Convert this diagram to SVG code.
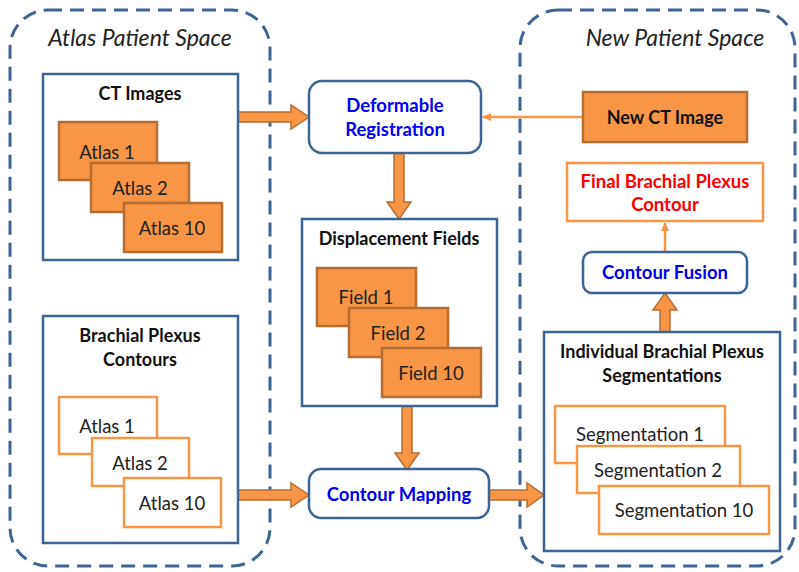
<svg xmlns="http://www.w3.org/2000/svg" width="799" height="572" viewBox="0 0 799 572">
<style>
.space{fill:none;stroke:#3E6494;stroke-width:3;stroke-dasharray:14 8}
.box{fill:#fff;stroke:#3E6494;stroke-width:2.5}
.rbox{fill:#fff;stroke:#3E6494;stroke-width:2.5}
.ofill{fill:#F79646;stroke:#B66D31;stroke-width:2.5}
.owhite{fill:#fff;stroke:#F79646;stroke-width:2.5}
.arrow{fill:#F79646;stroke:#B66D31;stroke-width:1.5}
.thin{stroke:#F79646;stroke-width:2.5;fill:none}
text{font-family:Lato,"Open Sans","Liberation Sans",sans-serif;text-anchor:middle}
.title{font-size:23px;font-style:italic;fill:#222}
.hd{font-size:18px;font-weight:bold;fill:#111}
.lbl{font-size:18.5px;fill:#222}
.blue{font-size:18.5px;font-weight:bold;fill:#0000EE}
.red{font-size:18.5px;font-weight:bold;fill:#FF0000}
</style>
<defs>
<marker id="ah" markerWidth="10" markerHeight="10" refX="8" refY="5" orient="auto" markerUnits="userSpaceOnUse">
<path d="M0,1 L9,5 L0,9 Z" fill="#F79646"/>
</marker>
</defs>

<g id="atlas-space">
<rect class="space" x="10" y="10" width="260" height="556" rx="38"/>
<text class="title" x="140" y="46">Atlas Patient Space</text>
</g>
<g id="new-space">
<rect class="space" x="520" y="10" width="275" height="556" rx="38"/>
<text class="title" x="675" y="46">New Patient Space</text>
</g>

<g id="connectors">
<polygon class="arrow" points="238,112 291,112 291,105 309,117 291,129 291,122 238,122"/>
<polygon class="arrow" points="394,153 404,153 404,202 411,202 399,219 387,202 394,202"/>
<polygon class="arrow" points="402,406 412,406 412,453 419,453 407,470 395,453 402,453"/>
<polygon class="arrow" points="238,490 291,490 291,483 309,495 291,507 291,500 238,500"/>
<polygon class="arrow" points="489,490 527,490 527,483 544,495 527,507 527,500 489,500"/>
<polygon class="arrow" points="660,332 660,310 653,310 665,293 677,310 670,310 670,332"/>
<line class="thin" x1="583" y1="117" x2="483" y2="117" marker-end="url(#ah)"/>
<line class="thin" x1="665" y1="252" x2="665" y2="223" marker-end="url(#ah)"/>
</g>

<g id="ct-images">
<rect class="box" x="43" y="74" width="195" height="186"/>
<text class="hd" x="140" y="100">CT Images</text>
</g>
<g id="ct-atlas1">
<rect class="ofill" x="59" y="122" width="98" height="58"/>
<text class="lbl" x="107" y="159">Atlas 1</text>
</g>
<g id="ct-atlas2">
<rect class="ofill" x="91" y="163" width="98" height="49"/>
<text class="lbl" x="140" y="195">Atlas 2</text>
</g>
<g id="ct-atlas10">
<rect class="ofill" x="124" y="203" width="98" height="49"/>
<text class="lbl" x="172" y="235">Atlas 10</text>
</g>

<g id="bp-contours">
<rect class="box" x="43" y="316" width="195" height="227"/>
<text class="hd" x="140" y="342">Brachial Plexus</text>
<text class="hd" x="140" y="366">Contours</text>
</g>
<g id="bp-atlas1">
<rect class="owhite" x="59" y="397" width="98" height="57"/>
<text class="lbl" x="107" y="433">Atlas 1</text>
</g>
<g id="bp-atlas2">
<rect class="owhite" x="92" y="438" width="97" height="48"/>
<text class="lbl" x="140" y="470">Atlas 2</text>
</g>
<g id="bp-atlas10">
<rect class="owhite" x="124" y="478" width="97" height="49"/>
<text class="lbl" x="172" y="510">Atlas 10</text>
</g>

<g id="deformable-registration">
<rect class="rbox" x="309" y="81" width="172" height="72" rx="13"/>
<text class="blue" x="395" y="112">Deformable</text>
<text class="blue" x="395" y="136">Registration</text>
</g>

<g id="displacement-fields">
<rect class="box" x="302" y="219" width="195" height="187"/>
<text class="hd" x="399" y="245">Displacement Fields</text>
</g>
<g id="field1">
<rect class="ofill" x="317" y="268" width="99" height="58"/>
<text class="lbl" x="366" y="304">Field 1</text>
</g>
<g id="field2">
<rect class="ofill" x="349" y="308" width="99" height="49"/>
<text class="lbl" x="398" y="340">Field 2</text>
</g>
<g id="field10">
<rect class="ofill" x="382" y="348" width="99" height="49"/>
<text class="lbl" x="431" y="380">Field 10</text>
</g>

<g id="contour-mapping">
<rect class="rbox" x="309" y="469" width="180" height="49" rx="12"/>
<text class="blue" x="399" y="501">Contour Mapping</text>
</g>

<g id="new-ct-image">
<rect class="ofill" x="583" y="92" width="164" height="50"/>
<text class="hd" x="665" y="124">New CT Image</text>
</g>

<g id="final-contour">
<rect class="owhite" x="567" y="163" width="196" height="58"/>
<text class="red" x="665" y="188">Final Brachial Plexus</text>
<text class="red" x="665" y="211">Contour</text>
</g>

<g id="contour-fusion">
<rect class="rbox" x="583" y="252" width="164" height="41" rx="9"/>
<text class="blue" x="665" y="279">Contour Fusion</text>
</g>

<g id="individual-segmentations">
<rect class="box" x="544" y="332" width="236" height="219"/>
<text class="hd" x="662" y="358">Individual Brachial Plexus</text>
<text class="hd" x="662" y="382">Segmentations</text>
</g>
<g id="seg1">
<rect class="owhite" x="555" y="406" width="170" height="57"/>
<text class="lbl" x="640" y="441">Segmentation 1</text>
</g>
<g id="seg2">
<rect class="owhite" x="577" y="446" width="163" height="47"/>
<text class="lbl" x="658" y="477">Segmentation 2</text>
</g>
<g id="seg10">
<rect class="owhite" x="599" y="486" width="170" height="48"/>
<text class="lbl" x="684" y="517">Segmentation 10</text>
</g>
</svg>
